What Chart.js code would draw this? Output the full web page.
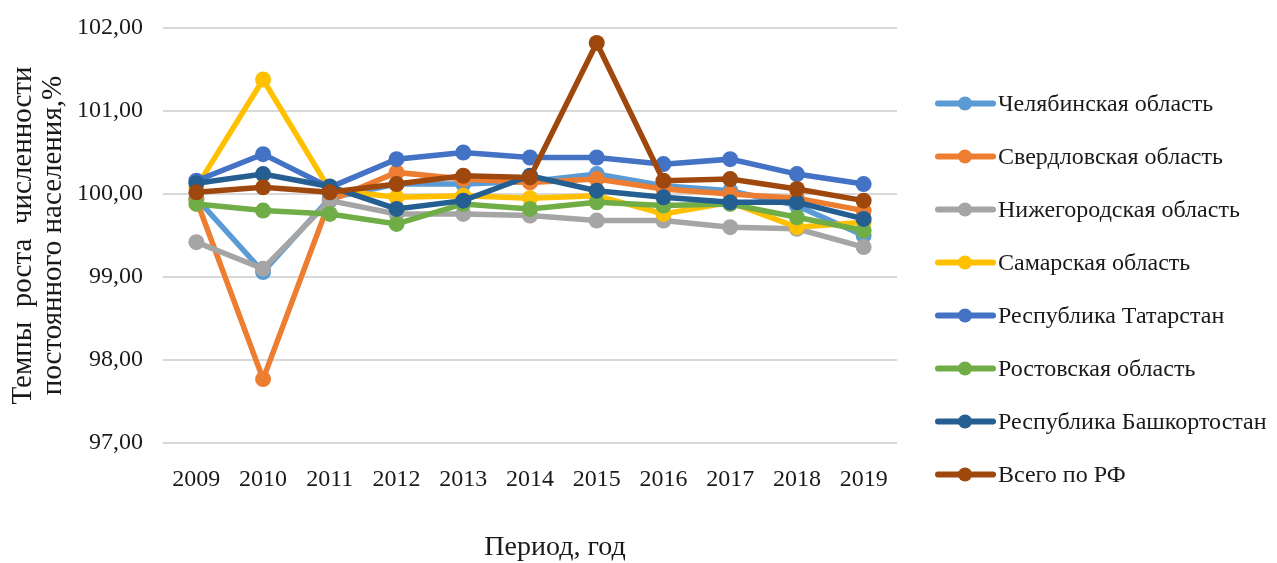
<!DOCTYPE html>
<html>
<head>
<meta charset="utf-8">
<script src="https://cdn.jsdelivr.net/npm/chart.js@4/dist/chart.umd.min.js"></script>
<style>
    html, body { margin: 0; padding: 0; background: #fff; }
    #wrap { width: 1277px; height: 563px; position: relative; }
</style>
</head>
<body>
<div id="wrap"><canvas id="myChart"></canvas></div>
<script>
const years = ['2009', '2010', '2011', '2012', '2013', '2014', '2015', '2016', '2017', '2018', '2019'];

const chelyabinsk   = [99.95, 99.06, 99.95, 100.12, 100.12, 100.15, 100.24, 100.10, 100.04, 99.86, 99.50];
const sverdlovsk    = [99.93, 97.77, 99.92, 100.26, 100.18, 100.14, 100.18, 100.06, 100.00, 99.95, 99.80];
const nizhny        = [99.42, 99.10, 99.92, 99.76, 99.76, 99.74, 99.68, 99.68, 99.60, 99.58, 99.36];
const samara        = [100.08, 101.38, 100.05, 99.96, 99.98, 99.95, 99.98, 99.76, 99.90, 99.60, 99.66];
const tatarstan     = [100.16, 100.48, 100.08, 100.42, 100.50, 100.44, 100.44, 100.36, 100.42, 100.24, 100.12];
const rostov        = [99.88, 99.80, 99.76, 99.64, 99.88, 99.82, 99.90, 99.86, 99.88, 99.72, 99.56];
const bashkortostan = [100.13, 100.24, 100.09, 99.82, 99.92, 100.22, 100.04, 99.96, 99.90, 99.90, 99.70];
const russia        = [100.02, 100.08, 100.02, 100.12, 100.22, 100.20, 101.82, 100.16, 100.18, 100.06, 99.92];

const seriesNames = [
    'Челябинская область',
    'Свердловская область',
    'Нижегородская область',
    'Самарская область',
    'Республика Татарстан',
    'Ростовская область',
    'Республика Башкортостан',
    'Всего по РФ'
];
const seriesValues = [chelyabinsk, sverdlovsk, nizhny, samara, tatarstan, rostov, bashkortostan, russia];
const seriesColors = ['#5B9BD5', '#ED7D31', '#A5A5A5', '#FFC000', '#4472C4', '#70AD47', '#255E91', '#9E480E'];

const yTitle = ['Темпы  роста  численности', 'постоянного населения,%'];
const xTitle = 'Период, год';

const serif = "'Liberation Serif', 'Times New Roman', serif";
const textColor = '#1a1a1a';

// legend on the right + x axis title, drawn by hand to match the Excel layout
const sideLegend = {
    id: 'sideLegend',
    afterDraw(chart) {
        const ctx = chart.ctx;
        const area = chart.chartArea;
        ctx.save();
        chart.data.datasets.forEach((ds, i) => {
            const y = 103.5 + i * 53;
            const x0 = area.right + 41;
            ctx.strokeStyle = ds.borderColor;
            ctx.lineWidth = 6;
            ctx.lineCap = 'round';
            ctx.beginPath();
            ctx.moveTo(x0, y);
            ctx.lineTo(x0 + 55, y);
            ctx.stroke();
            ctx.fillStyle = ds.borderColor;
            ctx.beginPath();
            ctx.arc(x0 + 27, y, 7, 0, Math.PI * 2);
            ctx.fill();
            ctx.fillStyle = textColor;
            ctx.font = '24px ' + serif;
            ctx.textBaseline = 'middle';
            ctx.textAlign = 'left';
            ctx.fillText(ds.label, x0 + 60, y + 1);
        });
        ctx.font = '28px ' + serif;
        ctx.textAlign = 'center';
        ctx.textBaseline = 'middle';
        ctx.fillStyle = textColor;
        ctx.fillText(xTitle, (area.left + area.right) / 2 + 25, 548);
        ctx.restore();
    }
};

document.addEventListener('DOMContentLoaded', () => {
    const ctx = document.getElementById('myChart').getContext('2d');
    new Chart(ctx, {
        type: 'line',
        data: {
            labels: years,
            datasets: seriesValues.map((vals, i) => ({
                label: seriesNames[i],
                data: vals,
                borderColor: seriesColors[i],
                backgroundColor: seriesColors[i],
                pointBackgroundColor: seriesColors[i],
                pointBorderWidth: 0,
                pointRadius: 8,
                borderWidth: 5.5,
                tension: 0,
                order: seriesValues.length - i
            }))
        },
        options: {
            responsive: true,
            maintainAspectRatio: false,
            animation: false,
            devicePixelRatio: 1,
            layout: { padding: { top: 28, right: 380, bottom: 0, left: 0 } },
            plugins: {
                legend: { display: false },
                tooltip: { enabled: false }
            },
            scales: {
                x: {
                    offset: true,
                    grid: { display: false, drawTicks: false },
                    border: { display: false },
                    ticks: { color: textColor, font: { family: serif, size: 24 }, padding: 22, maxRotation: 0 },
                    afterFit: (s) => { s.height = 120; }
                },
                y: {
                    min: 97,
                    max: 102,
                    grid: { color: '#d9d9d9', lineWidth: 2, drawTicks: false },
                    border: { display: false },
                    ticks: {
                        stepSize: 1,
                        color: textColor,
                        font: { family: serif, size: 24 },
                        padding: 20,
                        callback: (v) => v.toFixed(2).replace('.', ',')
                    },
                    title: {
                        display: true,
                        text: yTitle,
                        color: textColor,
                        font: { family: serif, size: 29, lineHeight: 1.05 },
                        padding: { top: 8, bottom: 0 }
                    },
                    afterFit: (s) => {
                        s.width = 163;
                        s.paddingTop = 5;
                        s.paddingBottom = 5;
                    }
                }
            }
        },
        plugins: [sideLegend]
    });
});
</script>
</body>
</html>
